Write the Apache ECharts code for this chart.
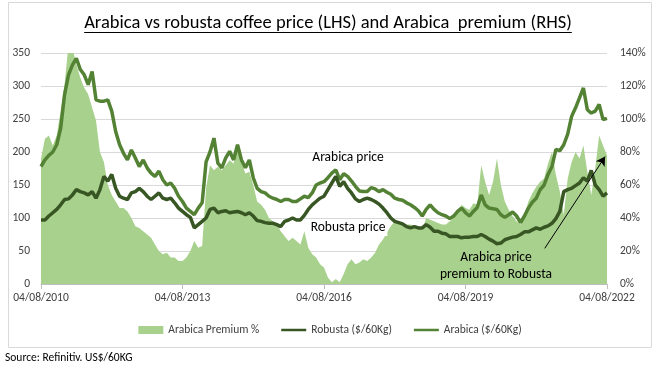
<!DOCTYPE html>
<html><head><meta charset="utf-8">
<script src="https://cdn.jsdelivr.net/npm/echarts@6/dist/echarts.min.js"></script>
<style>html,body{margin:0;padding:0;background:#fff}#c{width:660px;height:365px}</style>
</head><body><div id="c"></div>
<script>
// Monthly observations, starting 04/08/2010 (index 0) to 04/08/2022 (index 144)
const xTickLabels = ['04/08/2010','04/08/2013','04/08/2016','04/08/2019','04/08/2022'];
const arabica = [
178,188,195,200,211,236,287,317,332,342,325,317,
302,322,279,277,277,279,262,231,211,198,188,203,
191,178,188,176,168,163,171,158,150,153,145,133,
125,115,110,105,115,123,185,200,221,183,176,191,
201,188,211,188,176,188,161,145,140,138,133,130,
128,125,128,128,125,125,129,133,131,138,150,153,
155,161,168,173,158,167,163,156,148,141,140,140,
146,144,140,143,139,136,130,128,127,123,120,116,
111,103,113,120,113,108,105,103,99,103,110,115,
108,103,110,116,135,120,115,114,113,105,101,105,
109,103,93,103,115,124,130,143,150,166,178,204,
202,211,227,254,267,282,297,264,259,262,272,249,
251];
const robusta = [
97,97,103,108,113,120,128,129,135,143,140,138,
135,140,130,143,163,156,166,145,133,130,128,138,
140,145,140,133,128,133,138,130,128,130,123,115,
110,105,101,85,90,95,100,113,115,108,110,111,
108,109,110,108,105,108,103,96,95,93,92,92,
90,87,95,97,100,97,97,104,113,120,125,130,
133,143,153,163,148,155,145,138,129,125,128,130,
128,125,121,115,108,100,95,93,91,87,85,87,
85,85,90,86,80,80,77,76,72,72,72,70,
71,71,72,72,75,72,68,65,61,62,67,69,
71,72,75,79,79,82,85,83,86,88,92,99,
110,140,143,145,149,153,161,156,172,150,143,133,
138];
const premium = [
76,88,90,84,90,105,121,145,143,133,125,119,
115,107,99,80,74,60,54,50,46,46,44,40,
35,34,32,30,28,24,20,18,19,16,16,14,
14,16,20,26,22,23,58,72,69,71,69,72,
75,73,84,74,67,68,60,50,48,45,40,38,
36,32,29,26,28,26,24,32,22,18,16,12,
10,4,1,3,1,6,12,15,12,13,15,14,
16,19,24,27,31,35,38,38,36,36,36,35,
35,33,40,39,38,37,36,36,38,40,44,48,
46,45,49,48,72,62,54,62,76,60,50,45,
41,38,36,42,50,55,59,62,64,73,80,66,
56,42,64,74,80,76,84,68,54,70,90,84,
78];
const titleText = 'Arabica vs robusta coffee price (LHS) and Arabica  premium (RHS)';
const sourceText = 'Source: Refinitiv. US$/60KG';

const FONT = 'Carlito, Lato, sans-serif';
const toXY = arr => arr.map((v, i) => [i / 12, v]);

const titleSize = 18.5;
const cv = document.createElement('canvas').getContext('2d');
cv.font = titleSize + 'px ' + FONT;
const tw = cv.measureText(titleText).width;
const tcx = 328, tcy = 23;
const lineIcon = 'path://M0,0h40v4h-40z';

const chart = echarts.init(document.getElementById('c'), null, {renderer: 'canvas'});
chart.setOption({
  animation: false,
  textStyle: {fontFamily: FONT},
  grid: {left: 41, right: 53, top: 53, bottom: 81},
  legend: {
    top: 319, left: 'center', itemWidth: 25, itemHeight: 8, itemGap: 22,
    textStyle: {fontSize: 11.5, color: '#404040', fontFamily: FONT},
    data: [{name: 'Arabica Premium %', icon: 'rect'}, {name: 'Robusta ($/60Kg)', icon: lineIcon}, {name: 'Arabica ($/60Kg)', icon: lineIcon}]
  },
  xAxis: {
    type: 'value', min: 0, max: 12, interval: 3,
    axisLine: {lineStyle: {color: '#bfbfbf'}},
    axisTick: {show: true, length: 5, lineStyle: {color: '#bfbfbf'}},
    splitLine: {show: false},
    axisLabel: {color: '#404040', fontSize: 11.5, margin: 8, fontFamily: FONT,
      formatter: v => xTickLabels[Math.round(v / 3)]}
  },
  yAxis: [{
    type: 'value', min: 0, max: 350, interval: 50,
    axisLine: {show: false}, axisTick: {show: false},
    splitLine: {lineStyle: {color: '#d9d9d9'}},
    axisLabel: {color: '#404040', fontSize: 11.5, margin: 11, fontFamily: FONT}
  }, {
    type: 'value', min: 0, max: 140, interval: 20,
    axisLine: {show: false}, axisTick: {show: false}, splitLine: {show: false},
    axisLabel: {color: '#404040', fontSize: 11.5, margin: 13, fontFamily: FONT, formatter: '{value}%'}
  }],
  series: [{
    name: 'Arabica Premium %', type: 'line', yAxisIndex: 1, data: toXY(premium),
    symbol: 'none', lineStyle: {width: 0}, itemStyle: {color: '#a9d18e'},
    areaStyle: {color: '#a9d18e', opacity: 1}, z: 1
  }, {
    name: 'Robusta ($/60Kg)', type: 'line', data: toXY(robusta), symbol: 'none',
    itemStyle: {color: '#375623'}, lineStyle: {color: '#375623', width: 3.5}, z: 3
  }, {
    name: 'Arabica ($/60Kg)', type: 'line', data: toXY(arabica), symbol: 'none',
    itemStyle: {color: '#548235'}, lineStyle: {color: '#548235', width: 3.5}, z: 2,
    markLine: {
      silent: true, symbol: ['none', 'arrow'], symbolSize: [8, 9],
      lineStyle: {color: '#000', width: 1, type: 'solid'}, label: {show: false},
      data: [[{coord: [10.68, 54]}, {coord: [11.96, 193]}]]
    }
  }],
  graphic: [
    {type: 'rect', shape: {x: 8.5, y: 2.5, width: 643, height: 345}, style: {fill: 'none', stroke: '#d9d9d9', lineWidth: 1}, z: -10},
    {type: 'text', x: tcx, y: tcy, style: {text: titleText, font: titleSize + 'px ' + FONT, fill: '#000', align: 'center', verticalAlign: 'middle'}},
    {type: 'line', shape: {x1: tcx - tw / 2, y1: 32.5, x2: tcx + tw / 2, y2: 32.5}, style: {stroke: '#000', lineWidth: 1}},
    {type: 'text', x: 348, y: 158, z: 100, style: {text: 'Arabica price', font: '13.5px ' + FONT, fill: '#000', align: 'center', verticalAlign: 'middle'}},
    {type: 'text', x: 348, y: 228, z: 100, style: {text: 'Robusta price', font: '13.5px ' + FONT, fill: '#000', align: 'center', verticalAlign: 'middle', backgroundColor: '#fff', padding: [1, 2]}},
    {type: 'text', x: 496, y: 266, z: 100, style: {text: 'Arabica price\npremium to Robusta', font: '13.5px ' + FONT, fill: '#000', align: 'center', verticalAlign: 'middle', lineHeight: 17}},
    {type: 'text', x: 5, y: 358, style: {text: sourceText, font: '11.5px ' + FONT, fill: '#000', verticalAlign: 'middle'}}
  ]
});
</script></body></html>
